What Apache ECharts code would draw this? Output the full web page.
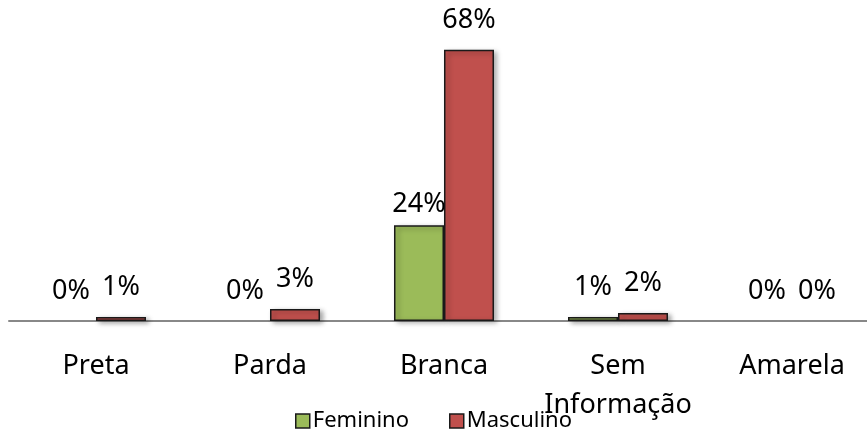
<!DOCTYPE html>
<html>
<head>
<meta charset="utf-8">
<script src="https://cdn.jsdelivr.net/npm/echarts@6/dist/echarts.min.js"></script>
<style>
  html, body { margin: 0; padding: 0; background: #fff; overflow: hidden; }
  /* the plot runs a little past the right edge of the window */
  #chart { width: 879px; height: 432px; }
</style>
</head>
<body>
<div id="chart"></div>
<script>
// Distribution by race/colour and sex (percent)
const categories = ['Preta', 'Parda', 'Branca', 'Sem\nInformação', 'Amarela'];
const feminino = [0, 0, 24, 1, 0];
const masculino = [1, 3, 68, 2, 0];

const FONT = '"Noto Sans", "DejaVu Sans", sans-serif';

function toItems(values, lowLabelIndex) {
  return values.map((v, i) => {
    const item = { value: v, itemStyle: { borderWidth: v === 0 ? 0 : 1.5 } };
    if (i === lowLabelIndex) item.label = { distance: 7 };
    return item;
  });
}

const barStyle = color => ({
  color: color,
  borderColor: '#1a1a1a',
  borderWidth: 1.5,
  shadowColor: 'rgba(0,0,0,0.35)',
  shadowBlur: 5,
  shadowOffsetX: 3,
  shadowOffsetY: 2
});

const valueLabel = {
  show: true,
  position: 'top',
  distance: 16,
  formatter: '{c}%',
  color: '#000',
  fontFamily: FONT,
  fontSize: 27
};

const chart = echarts.init(document.getElementById('chart'), null, { renderer: 'canvas' });
chart.setOption({
  backgroundColor: '#fff',
  animation: false,
  grid: { left: 9, right: 0, top: 2, bottom: 111, containLabel: false },
  legend: {
    left: 290,
    top: 405,
    itemWidth: 14,
    itemHeight: 14,
    itemGap: 40,
    icon: 'rect',
    itemStyle: { borderColor: '#1a1a1a', borderWidth: 1.5 },
    textStyle: { fontFamily: FONT, fontSize: 22, color: '#000', padding: [0, 0, 0, -2] },
    data: ['Feminino', 'Masculino']
  },
  xAxis: {
    type: 'category',
    data: categories,
    axisLine: { show: true, lineStyle: { color: '#888', width: 2 } },
    axisTick: { show: false },
    axisLabel: {
      color: '#000',
      fontFamily: FONT,
      fontSize: 27,
      lineHeight: 39,
      margin: 26,
      interval: 0
    }
  },
  yAxis: {
    type: 'value',
    min: 0,
    max: 80,
    show: false,
    splitLine: { show: false }
  },
  series: [
    {
      name: 'Feminino',
      type: 'bar',
      barWidth: 50,
      barGap: '0%',
      itemStyle: barStyle('#9BBB59'),
      label: valueLabel,
      data: toItems(feminino, 2)
    },
    {
      name: 'Masculino',
      type: 'bar',
      barWidth: 50,
      barGap: '0%',
      itemStyle: barStyle('#C0504D'),
      label: valueLabel,
      data: toItems(masculino, -1)
    }
  ]
});
</script>
</body>
</html>
